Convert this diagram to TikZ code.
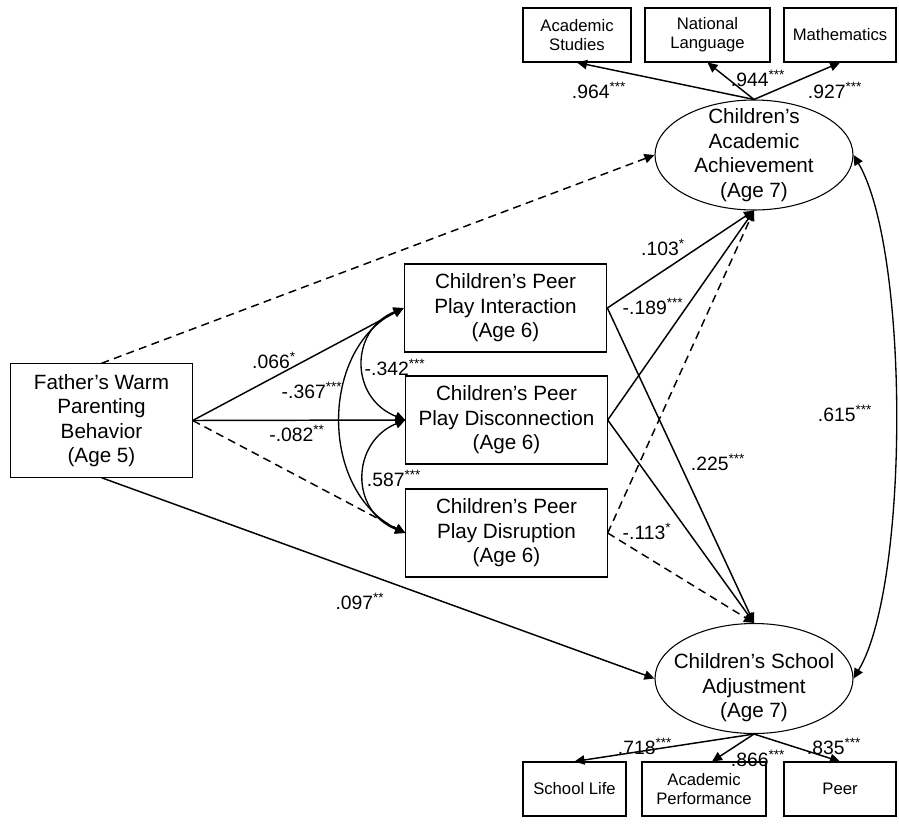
\documentclass[tikz,border=0pt]{standalone}
\usepackage{fontspec}
\setmainfont{Liberation Sans}
\usetikzlibrary{arrows.meta,shapes.geometric}
\newcommand{\sig}[1]{\textsuperscript{#1}}

\begin{document}
\begin{tikzpicture}[
    x=0.75pt, y=-0.75pt,
    obs/.style={rectangle, draw, line width=0.8pt, align=center, inner sep=0pt, minimum height=66pt, font=\fontsize{15.5}{18.4}\selectfont},
    ind/.style={rectangle, draw, line width=0.8pt, align=center, inner sep=0pt, minimum height=40.5pt, font=\fontsize{12.5}{14.3}\selectfont},
    lat/.style={ellipse, draw, line width=0.8pt, inner sep=0pt, minimum width=148.5pt, minimum height=82.5pt},
    lattext/.style={align=center, font=\fontsize{15.5}{18.4}\selectfont},
    coef/.style={inner sep=1pt, font=\fontsize{14.5}{17}\selectfont},
    effect/.style={-{Triangle[length=7.5pt,width=7pt]}, line width=1.1pt},
    nseffect/.style={effect, dash pattern=on 6pt off 4pt},
    cov/.style={{Triangle[length=7.5pt,width=7pt]}-{Triangle[length=7.5pt,width=7pt]}, line width=1pt}
]
\useasboundingbox (0,0) rectangle (899,825);

% Predictor and mediators
\node[obs, minimum width=136pt, minimum height=85pt] (father) at (101.5,420.5) {Father's Warm\\Parenting\\Behavior\\(Age 5)};
\node[obs, minimum width=152pt] (inter) at (505.5,308) {Children's Peer\\Play Interaction\\(Age 6)};
\node[obs, minimum width=151pt] (disc) at (506.5,420) {Children's Peer\\Play Disconnection\\(Age 6)};
\node[obs, minimum width=151pt] (disr) at (506.5,533) {Children's Peer\\Play Disruption\\(Age 6)};

% Outcomes (latent)
\node[lat, label={[lattext]center:Children's\\Academic\\Achievement\\(Age 7)}] (ach) at (754,155) {};
\node[lat, label={[lattext, yshift=-7pt]center:Children's School\\Adjustment\\(Age 7)}] (sch) at (754,678.5) {};

% Indicators
\node[ind, minimum width=81pt] (studies) at (577,35) {Academic\\Studies};
\node[ind, minimum width=93.75pt] (lang) at (707.5,35) {National\\Language};
\node[ind, minimum width=84pt] (math) at (840,35) {Mathematics};
\node[ind, minimum width=77.25pt] (life) at (574.5,789) {School Life};
\node[ind, minimum width=93pt] (perf) at (704,789) {Academic\\Performance};
\node[ind, minimum width=84pt] (peer) at (840,789) {Peer};

% Measurement paths
\draw[effect] (ach.north) -- (studies.south);
\draw[effect] (ach.north) -- (lang.south);
\draw[effect] (ach.north) -- (math.south);
\draw[effect] (sch.south) -- (life.north);
\draw[effect] (sch.south) -- ([xshift=6pt]perf.north);
\draw[effect] (sch.south) -- (peer.north);

% Structural paths
\draw[nseffect] (father.north) -- (ach.west);
\draw[effect] (father.east) -- (inter.west);
\draw[effect] (father.east) -- (disc.west);
\draw[nseffect] (father.east) -- (disr.west);
\draw[effect] (father.south) -- (sch.west);
\draw[effect] (inter.east) -- (ach.south);
\draw[effect] (disc.east) -- (ach.south);
\draw[nseffect] (disr.east) -- (ach.south);
\draw[effect] (inter.east) -- (sch.north);
\draw[effect] (disc.east) -- (sch.north);
\draw[nseffect] (disr.east) -- (sch.north);

% Covariances
\draw[cov] (inter.west) .. controls +(-54,22) and +(-56,-22) .. (disc.west);
\draw[cov] (disc.west) .. controls +(-54,22) and +(-56,-22) .. (disr.west);
\draw[cov] (inter.west) .. controls +(-84,42) and +(-86,-42) .. (disr.west);
\draw[cov] (ach.east) .. controls +(56,95) and +(56,-93) .. (sch.east);

% Coefficients
\node[coef] (lstudies) at (599,90) {.964\sig{***}};
\node[coef] (llang) at (758,78) {.944\sig{***}};
\node[coef] (lmath) at (835,90) {.927\sig{***}};
\node[coef] (llife) at (645,746) {.718\sig{***}};
\node[coef] (lperf) at (758,758) {.866\sig{***}};
\node[coef] (lpeer) at (834,746) {.835\sig{***}};
\node[coef] (lfi) at (274,360) {.066\sig{*}};
\node[coef] (lid) at (312,390) {-.367\sig{***}};
\node[coef] (lfd) at (297,433) {-.082\sig{**}};
\node[coef] (lic) at (395,367) {-.342\sig{***}};
\node[coef] (lcd) at (394,478) {.587\sig{***}};
\node[coef] (lia) at (663,247) {.103\sig{*}};
\node[coef] (lca) at (653,306) {-.189\sig{***}};
\node[coef] (lis) at (718,462) {.225\sig{***}};
\node[coef] (lds) at (647,531) {-.113\sig{*}};
\node[coef] (las) at (845,413) {.615\sig{***}};
\node[coef] (lfs) at (360,601) {.097\sig{**}};

\end{tikzpicture}
\end{document}
